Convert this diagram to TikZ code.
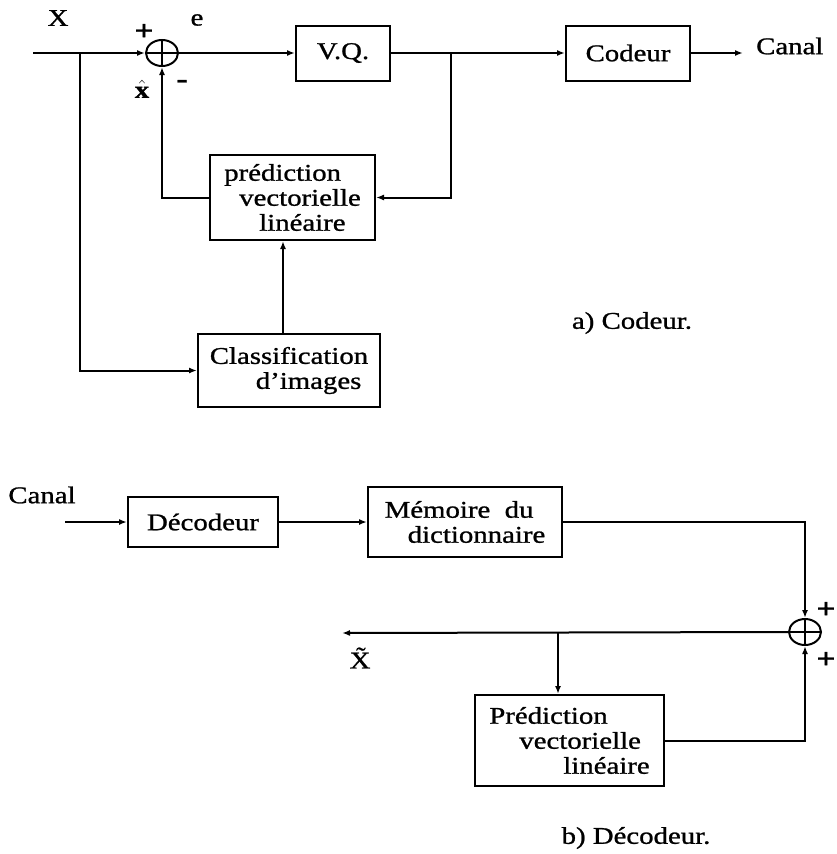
\documentclass[tikz,border=0pt]{standalone}
\usepackage{fontspec}
\setmainfont{Liberation Serif}[FakeStretch=1.2,FakeBold=1]
\usetikzlibrary{arrows.meta,shapes.geometric,calc}
\begin{document}
\begin{tikzpicture}[x=1pt,y=-1pt,
  every node/.style={font=\fontsize{24}{25}\selectfont},
  blk/.style={draw,line width=2pt,inner sep=0pt,align=left},
  sumj/.style={draw,ellipse,line width=2pt,minimum width=32pt,minimum height=26pt,inner sep=0pt},
  wire/.style={line width=2pt},
  arr/.style={wire,-{Latex[length=8pt,width=6pt]}},
  sgn/.style={font=\fontsize{28}{28}\selectfont\bfseries}]
\useasboundingbox (0,0) rectangle (837,854);

% ---------- a) Codeur ----------
\node (xlab) at (58,18) {X};
\node (elab) at (197,20) {e};
\node[sgn] (p1) at (144,32) {+};
\node[sgn] (m1) at (182,84) {-};
\node (xhat) at (142,89) {\fontsize{24}{24}\selectfont$\hat{\mbox{\bfseries x}}$};

\node[sumj] (sum1) at (162,53) {};
\draw[wire] (sum1.north) -- (sum1.south) (sum1.west) -- (sum1.east);

\node[blk,minimum width=94pt,minimum height=55pt] (vq) at (343,53) {V.Q.};
\node[blk,minimum width=124pt,minimum height=55pt] (cod) at (628,53) {Codeur};
\node[anchor=west,inner sep=0pt,inner xsep=13pt] (canal1) at (743,46) {Canal};

\node[blk,minimum width=165pt,minimum height=85pt] (pred) at (292.5,197.5)
  {prédiction\\\hspace*{15pt}vectorielle\\\hspace*{35pt}linéaire};
\node[blk,minimum width=182pt,minimum height=73pt] (cls) at (289,370.5)
  {Classification\\\hspace*{46pt}d'images};

\node (capa) at (632,323) {a) Codeur.};

\coordinate (in1) at (33,53);
\coordinate (br1) at (80,53);
\coordinate (ba) at (451,53);

\draw[arr] (in1) -- (sum1.west);
\draw[arr] (sum1.east) -- (vq.west);
\draw[arr] (vq.east) -- (cod.west);
\draw[arr] (cod.east) -- (cod.east -| canal1.west);
\draw[arr] (ba) |- (pred.east);
\draw[arr] (pred.west) -| (sum1.south);
\draw[arr] ([xshift=-6pt]cls.north) -- ([xshift=-6pt]cls.north |- pred.south);
\draw[arr] (br1) |- (cls.west);

% ---------- b) Décodeur ----------
\node (canal2) at (42,495) {Canal};
\node[blk,minimum width=150pt,minimum height=50pt] (dec) at (203,522) {Décodeur};
\node[blk,minimum width=194pt,minimum height=70pt] (mem) at (465,522)
  {Mémoire\ \ du\\\hspace*{23pt}dictionnaire};

\node[sumj] (sum2) at (805,632) {};
\draw[wire] (sum2.north) -- (sum2.south) (sum2.west) -- (sum2.east);
\node[sgn] (p2) at (826,610) {+};
\node[sgn] (p3) at (826,660) {+};

\node[blk,minimum width=189pt,minimum height=91pt] (pred2) at (569.5,740.5)
  {Prédiction\\\hspace*{30pt}vectorielle\\\hspace*{74pt}linéaire};

\node (xtil) at (360,658) {\~{X}};
\node (capb) at (636,838) {b) Décodeur.};

\coordinate (cin) at (65,522);
\coordinate (xout) at (342,633);
\coordinate (b2) at (558,633);

\draw[arr] (cin) -- (dec.west);
\draw[arr] (dec.east) -- (mem.west);
\draw[arr] (mem.east) -| (sum2.north);
\draw[arr] (sum2.west) -- (xout);
\draw[arr] (b2) -- (b2 |- pred2.north);
\draw[arr] (pred2.east) -| (sum2.south);
\end{tikzpicture}
\end{document}
